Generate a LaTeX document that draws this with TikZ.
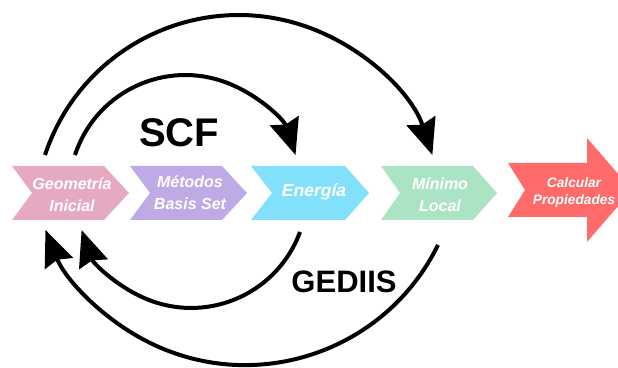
\documentclass[tikz,border=0pt]{standalone}
\usepackage{fontspec}
\setmainfont{Liberation Sans}
\usetikzlibrary{arrows.meta}
\definecolor{cpink}{RGB}{229,170,194}
\definecolor{cpurple}{RGB}{192,170,230}
\definecolor{cblue}{RGB}{130,224,250}
\definecolor{cgreen}{RGB}{170,228,196}
\definecolor{cred}{RGB}{255,107,107}
\begin{document}
\begin{tikzpicture}[x=1pt,y=1pt,
  loopline/.style={line width=4pt, -{Stealth[length=36pt,width=30pt,inset=4pt]}},
  lbl/.style={text=white, align=center, inner sep=0pt,
    font=\fontsize{16}{22}\selectfont\bfseries\itshape},
  biglbl/.style={inner sep=0pt, anchor=base, font=\bfseries}]
\path[use as bounding box] (0,0) rectangle (618,367);
\clip (0,0) rectangle (618,367);
% chevrons
\fill[cpink]   (12,201) -- (104,201) -- (129,174) -- (104,147) -- (12,147) -- (32,174) -- cycle;
\fill[cpurple] (130,201) -- (222,201) -- (247,174) -- (222,147) -- (130,147) -- (150,174) -- cycle;
\fill[cblue]   (251,201) -- (345,201) -- (369,174) -- (345,147) -- (251,147) -- (272,174) -- cycle;
\fill[cgreen]  (381,201) -- (473,201) -- (497,174) -- (473,147) -- (381,147) -- (400,174) -- cycle;
\fill[cred]    (508,204) -- (587,204) -- (587,229) -- (632,177) -- (587,125) -- (587,150) -- (508,150) -- (525,177) -- cycle;
% labels
\node[lbl] (geo) at (72,172) {Geometría\\Inicial};
\node[lbl] (met) at (190,174) {Métodos\\Basis Set};
\node[lbl, anchor=base, font=\fontsize{17.5}{20}\selectfont\bfseries\itshape] (ene) at (314,170) {Energía};
\node[lbl] (min) at (440,172) {Mínimo\\Local};
\node[lbl, font=\fontsize{13.7}{17}\selectfont\bfseries\itshape] (cal) at (574,175) {Calcular\\Propiedades};
\node[biglbl, font=\fontsize{40}{40}\selectfont\bfseries] (scf) at (179,220) {SCF};
\node[biglbl, font=\fontsize{31}{31}\selectfont\bfseries] (gediis) at (344,75) {GEDIIS};
% loops
\coordinate (a1) at (75,212);
\coordinate (a2) at (45,212);
\coordinate (b1) at (300,135);
\coordinate (b2) at (438,122);
\draw[loopline] (a1) arc[start angle=161.9, end angle=18.1, radius=116pt];
\draw[loopline] (a2) arc[start angle=161.7, end angle=18.3, radius=204pt];
\draw[loopline] (b1) arc[start angle=-20.2, end angle=-160.8, radius=116pt];
\draw[loopline] (b2) arc[start angle=-26.2, end angle=-158.2, radius=215pt];
\end{tikzpicture}
\end{document}
